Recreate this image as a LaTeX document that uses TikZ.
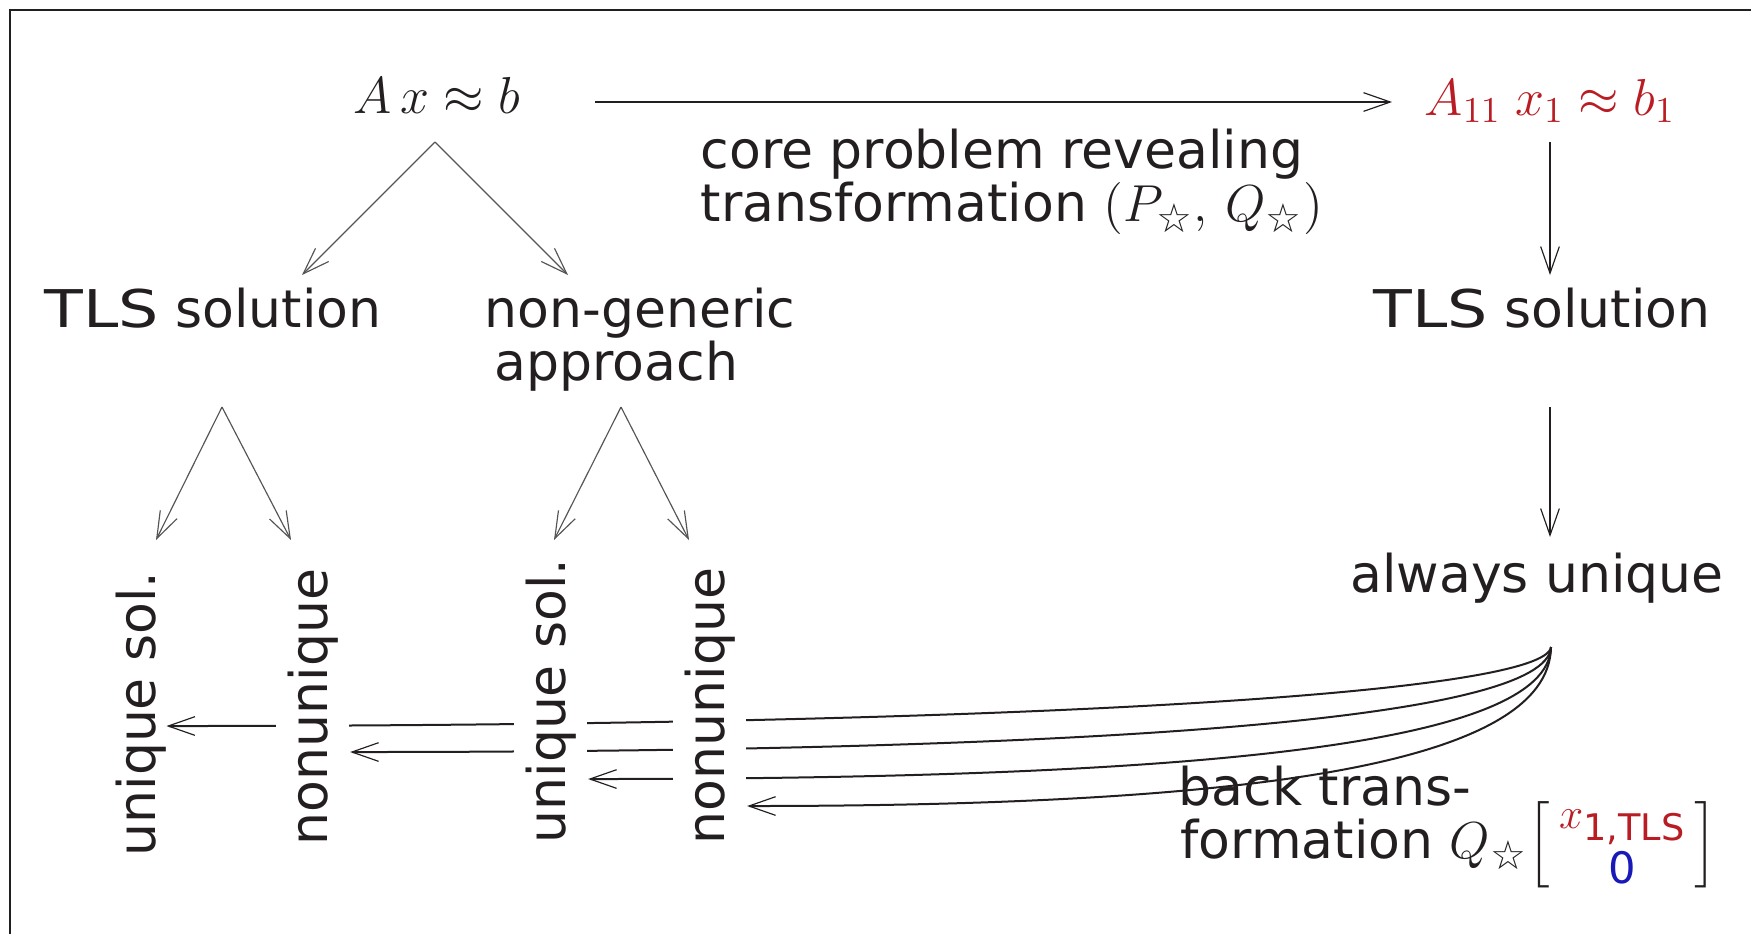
\RequirePackage{fix-cm}
\documentclass[tikz,border=0pt]{standalone}
\usepackage{amsmath}
\usepackage{graphicx}
\usepackage{fontspec}
\setmainfont{DejaVu Sans}
\usetikzlibrary{arrows.meta,calc,backgrounds}
\definecolor{ink}{RGB}{35,31,32}
\definecolor{cred}{RGB}{185,28,35}
\definecolor{cblue}{RGB}{25,25,185}
\definecolor{cgray}{RGB}{85,85,85}
\newcommand{\ostar}{\text{\fontsize{12}{12}\selectfont ☆}}
\newcommand{\wTLS}{\scalebox{1.22}[1]{TLS}}
\begin{document}
\begin{tikzpicture}[x=0.3pt,y=-0.3pt,
  txt/.style={inner sep=0pt, text=ink, font=\fontsize{15.6}{18}\selectfont},
  vtxt/.style={txt, rotate=90, fill=white, inner sep=3.5pt},
  arrowtip/.style={-{Straight Barb[length=8pt,width=5.6pt,line width=0.35pt]}},
  thinarr/.style={arrowtip, draw=cgray, line width=0.35pt},
  thickarr/.style={arrowtip, draw=ink, line width=0.6pt}
]
\useasboundingbox (0,0) rectangle (1751,933);
\clip (0,0) rectangle (1751,933);
% frame
\draw[ink, line width=0.6pt] (9.5,960) -- (9.5,9.5) -- (1780,9.5);

% nodes
\node[txt, anchor=base] (axb) at (437,113) {$A\,x\approx b$};
\node[txt, anchor=base, text=cred] (a11) at (1550,115) {$A_{11}\;x_1\approx b_1$};
\node[txt, anchor=base west] (core1) at (700,168) {core problem revealing};
\node[txt, anchor=base west] (core2) at (700,221) {transformation $(P_{\ostar},\,Q_{\ostar})$};
\node[txt, anchor=base] (tlsl) at (213,327) {\wTLS{} solution};
\node[txt, anchor=base west] (ng1) at (484,327) {non-generic};
\node[txt, anchor=base west] (ng2) at (494,380) {approach};
\node[txt, anchor=base] (tlsr) at (1542,327) {\wTLS{} solution};
\node[txt, anchor=base] (au) at (1537,592) {always unique};

\node[vtxt, anchor=base, inner sep=0pt] (u1) at (155,714) {unique sol.};
\node[vtxt, anchor=base] (n1) at (327,707) {nonunique};
\node[vtxt, anchor=base] (u2) at (565,701) {unique sol.};
\node[vtxt, anchor=base] (n2) at (724,706) {nonunique};

\node[txt, anchor=base west] (bt1) at (1178,805) {back trans-};
\node[txt, anchor=base west] (bt2) at (1180,858) {formation $Q_{\ostar}\Big[\,\vcenter{\hbox{\fontsize{13}{16.5}\selectfont\begin{tabular}{@{}c@{}}\color{cred}$x_{\text{\fontsize{11}{11}\selectfont 1,TLS}}$\\ \color{cblue}0\end{tabular}}}\,\Big]$};

% back transformation curves, behind the labels
\coordinate (r1) at (0,726);
\coordinate (r2) at (0,752);
\coordinate (r3) at (0,779);
\coordinate (r4) at (0,806);
\coordinate (aus) at ($(au.base)+(14,55)$);
\begin{pgfonlayer}{background}
\draw[thickarr] (aus) .. controls (1545,695) and (1000,726) .. (u1.south |- r1);
\draw[thickarr] (aus) .. controls (1547,720) and (1100,752) .. (n1.south |- r2);
\draw[thickarr] (aus) .. controls (1548,745) and (1200,779) .. (u2.south |- r3);
\draw[thickarr] (aus) .. controls (1549,765) and (1250,806) .. (n2.south |- r4);
\end{pgfonlayer}

% arrows
\draw[thickarr] ($(axb.base)+(158,-11)$) -- ($(a11.base)+(-158,-13)$);
\draw[thinarr] ($(axb.base)+(-2,29)$) -- ($(tlsl.base)+(89,-52)$);
\draw[thinarr] ($(axb.base)+(-2,29)$) -- ($(ng1.base west)+(84,-52)$);
\draw[thinarr] ($(tlsl.base)+(9,80)$) -- ($(u1.base)+(1,-174)$);
\draw[thinarr] ($(tlsl.base)+(9,80)$) -- ($(n1.base)+(-36,-167)$);
\draw[thinarr] ($(ng2.base west)+(127,27)$) -- ($(u2.base)+(-11,-161)$);
\draw[thinarr] ($(ng2.base west)+(127,27)$) -- ($(n2.base)+(-35,-166)$);
\draw[thickarr] ($(a11.base)+(0,27)$) -- ($(tlsr.base)+(8,-52)$);
\draw[thickarr] ($(tlsr.base)+(8,80)$) -- ($(au.base)+(13,-55)$);
\end{tikzpicture}
\end{document}
